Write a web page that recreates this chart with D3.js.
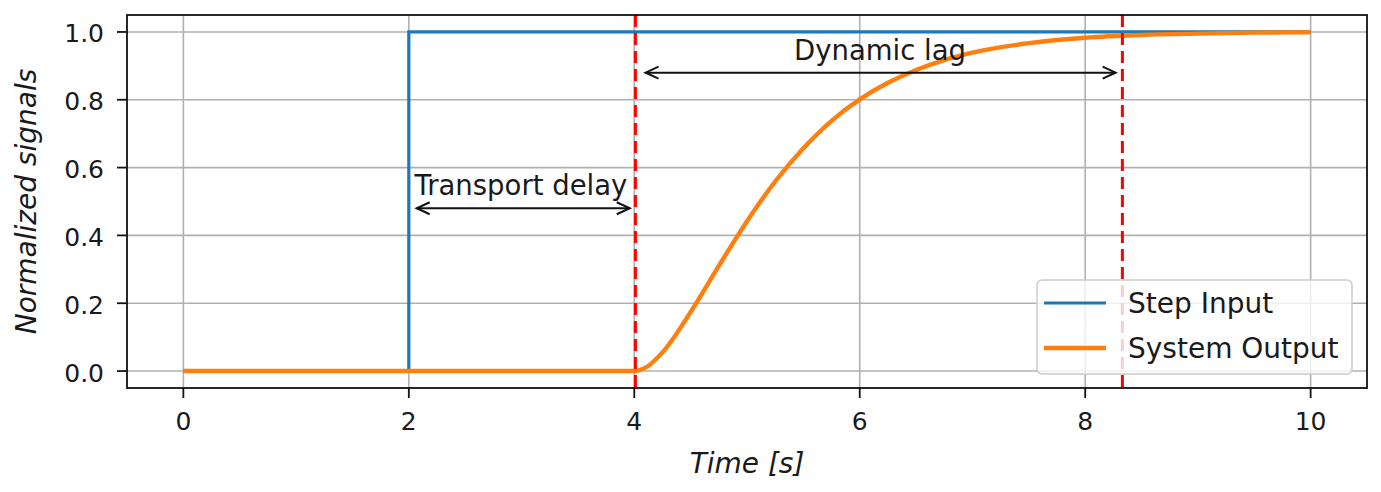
<!DOCTYPE html>
<html>
<head>
<meta charset="utf-8">
<script src="https://cdn.jsdelivr.net/npm/d3@7"></script>
<style>
  body { margin: 0; background: #fff; }
  svg text { font-family: "DejaVu Sans", sans-serif; fill: #1a1a1a; }
</style>
</head>
<body>
<div id="chart"></div>
<script>
// Step input (time in s, normalized value)
var stepTime = [0, 2, 2, 10];
var stepValue = [0, 0, 1, 1];

// System output
var outTime = [0, 4.0, 4.1, 4.25, 4.5, 4.75, 5.0, 5.25, 5.5, 5.75, 6.0, 6.25, 6.5, 6.75, 7.0, 7.5, 8.0, 8.5, 9.0, 9.5, 10];
var outValue = [0, 0, 0.01, 0.055, 0.174, 0.31, 0.442, 0.559, 0.657, 0.738, 0.801, 0.85, 0.888, 0.917, 0.939, 0.967, 0.983, 0.991, 0.995, 0.998, 0.999];

// Red dashed markers
var markerTime = [4.01, 8.33];

// Ticks
var xTicks = [0, 2, 4, 6, 8, 10];
var yTicks = [0, 0.2, 0.4, 0.6, 0.8, 1.0];

// Double arrows: [from, to, level]
var arrowFrom = [2.07, 4.10];
var arrowTo = [3.96, 8.27];
var arrowLevel = [0.48, 0.88];
var labelText = ["Transport delay", "Dynamic lag"];
var labelTime = [2.05, 6.18];
var labelLevel = [0.52, 0.918];
var labelAnchor = ["start", "middle"];

var seriesNames = ["Step Input", "System Output"];
var seriesColors = ["#1f77b4", "#ff7f0e"];
var seriesWidths = [3.2, 4.4];

var W = 1381, H = 492;
var margin = {left: 127, right: 14, top: 15, bottom: 104};

var svg = d3.select("#chart").append("svg")
    .attr("width", W)
    .attr("height", H);

var x = d3.scaleLinear().domain([-0.5, 10.5]).range([margin.left, W - margin.right]);
var y = d3.scaleLinear().domain([-0.05, 1.05]).range([H - margin.bottom, margin.top]);

var plot = svg.append("g");

// Grid
plot.selectAll(".gx").data(xTicks).enter().append("line")
    .attr("x1", function(d) { return x(d); })
    .attr("x2", function(d) { return x(d); })
    .attr("y1", y.range()[0])
    .attr("y2", y.range()[1])
    .attr("stroke", "#b0b0b0")
    .attr("stroke-width", 1.6);

plot.selectAll(".gy").data(yTicks).enter().append("line")
    .attr("x1", x.range()[0])
    .attr("x2", x.range()[1])
    .attr("y1", function(d) { return y(d); })
    .attr("y2", function(d) { return y(d); })
    .attr("stroke", "#b0b0b0")
    .attr("stroke-width", 1.6);

// Lines
var stepLine = d3.line()
    .x(function(d, i) { return x(stepTime[i]); })
    .y(function(d) { return y(d); });

plot.append("path")
    .attr("d", stepLine(stepValue))
    .attr("fill", "none")
    .attr("stroke", seriesColors[0])
    .attr("stroke-width", seriesWidths[0]);

var outLine = d3.line()
    .x(function(d, i) { return x(outTime[i]); })
    .y(function(d) { return y(d); })
    .curve(d3.curveMonotoneX);

plot.append("path")
    .attr("d", outLine(outValue))
    .attr("fill", "none")
    .attr("stroke", seriesColors[1])
    .attr("stroke-width", seriesWidths[1])
    .attr("stroke-linejoin", "round");

// Red dashed markers
plot.selectAll(".marker").data(markerTime).enter().append("line")
    .attr("x1", function(d) { return x(d); })
    .attr("x2", function(d) { return x(d); })
    .attr("y1", y.range()[1])
    .attr("y2", y.range()[0])
    .attr("stroke", "#ff0000")
    .attr("stroke-width", 3)
    .attr("stroke-dasharray", "12,6");

// Double arrows
var headLen = 13, headHalf = 6;
for (var i = 0; i < arrowFrom.length; i++) {
    var x1 = x(arrowFrom[i]), x2 = x(arrowTo[i]), ya = y(arrowLevel[i]);
    var g = plot.append("g")
        .attr("fill", "none")
        .attr("stroke", "#111")
        .attr("stroke-width", 2);
    g.append("line").attr("x1", x1).attr("x2", x2).attr("y1", ya).attr("y2", ya);
    g.append("path").attr("d", "M" + (x1 + headLen) + "," + (ya - headHalf) + "L" + x1 + "," + ya + "L" + (x1 + headLen) + "," + (ya + headHalf));
    g.append("path").attr("d", "M" + (x2 - headLen) + "," + (ya - headHalf) + "L" + x2 + "," + ya + "L" + (x2 - headLen) + "," + (ya + headHalf));

    plot.append("text")
        .attr("x", x(labelTime[i]))
        .attr("y", y(labelLevel[i]))
        .attr("text-anchor", labelAnchor[i])
        .style("font-size", "27.5px")
        .text(labelText[i]);
}

// Axes ticks and labels
var axisG = svg.append("g");

axisG.selectAll(".tx").data(xTicks).enter().append("line")
    .attr("x1", function(d) { return x(d); })
    .attr("x2", function(d) { return x(d); })
    .attr("y1", y.range()[0])
    .attr("y2", y.range()[0] + 10)
    .attr("stroke", "#111")
    .attr("stroke-width", 1.8);

axisG.selectAll(".lx").data(xTicks).enter().append("text")
    .attr("x", function(d) { return x(d); })
    .attr("y", 430)
    .attr("text-anchor", "middle")
    .style("font-size", "25px")
    .text(function(d) { return d; });

axisG.selectAll(".ty").data(yTicks).enter().append("line")
    .attr("x1", x.range()[0] - 10)
    .attr("x2", x.range()[0])
    .attr("y1", function(d) { return y(d); })
    .attr("y2", function(d) { return y(d); })
    .attr("stroke", "#111")
    .attr("stroke-width", 1.8);

axisG.selectAll(".ly").data(yTicks).enter().append("text")
    .attr("x", 104)
    .attr("y", function(d) { return y(d) + 10.5; })
    .attr("text-anchor", "end")
    .style("font-size", "25px")
    .text(function(d) { return d3.format(".1f")(d); });

// Axis titles
axisG.append("text")
    .attr("x", (x.range()[0] + x.range()[1]) / 2)
    .attr("y", 473)
    .attr("text-anchor", "middle")
    .style("font-size", "28px")
    .style("font-style", "italic")
    .text("Time [s]");

axisG.append("text")
    .attr("transform", "translate(36," + ((y.range()[0] + y.range()[1]) / 2) + ") rotate(-90)")
    .attr("text-anchor", "middle")
    .style("font-size", "28px")
    .style("font-style", "italic")
    .text("Normalized signals");

// Legend
var leg = svg.append("g").attr("transform", "translate(1037,280)");
leg.append("rect")
    .attr("width", 315)
    .attr("height", 94)
    .attr("rx", 5)
    .attr("fill", "#fff")
    .attr("fill-opacity", 0.8)
    .attr("stroke", "#cccccc")
    .attr("stroke-width", 1.5);

seriesNames.forEach(function(name, i) {
    var ly = 23 + i * 45;
    leg.append("line")
        .attr("x1", 7).attr("x2", 69)
        .attr("y1", ly).attr("y2", ly)
        .attr("stroke", seriesColors[i])
        .attr("stroke-width", seriesWidths[i]);
    leg.append("text")
        .attr("x", 91)
        .attr("y", ly + 10)
        .style("font-size", "28px")
        .text(name);
});

// Frame
svg.append("rect")
    .attr("x", x.range()[0])
    .attr("y", y.range()[1])
    .attr("width", x.range()[1] - x.range()[0])
    .attr("height", y.range()[0] - y.range()[1])
    .attr("fill", "none")
    .attr("stroke", "#111")
    .attr("stroke-width", 1.8);
</script>
</body>
</html>
